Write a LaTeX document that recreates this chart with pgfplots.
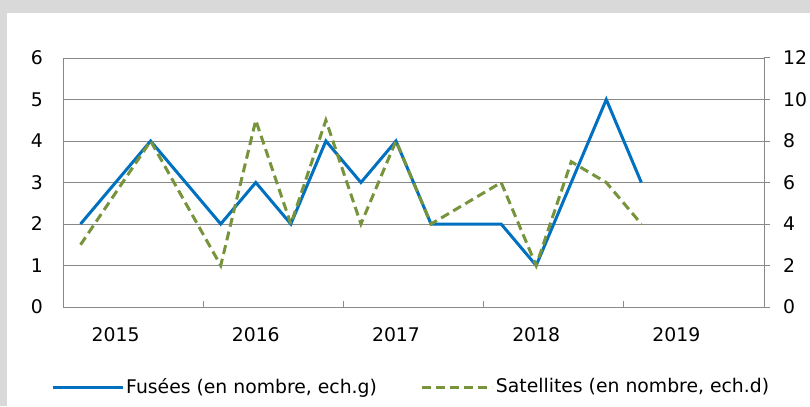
\documentclass[border=0pt]{standalone}
\usepackage{fontspec}
\setmainfont{DejaVu Sans}
\usepackage{pgfplots}
\pgfplotsset{compat=1.18}
\definecolor{bgray}{HTML}{D9D9D9}
\definecolor{gridgray}{HTML}{898989}
\definecolor{fblue}{HTML}{0070C0}
\definecolor{sgreen}{HTML}{77933C}
\begin{document}
\fontsize{18.8bp}{22bp}\selectfont
\begin{tikzpicture}[x=1bp,y=1bp]
\path[use as bounding box] (0,0) rectangle (810,406);
\fill[bgray] (0,0) rectangle (810,406);
\fill[white] (7,0) rectangle (810,393);
\begin{axis}[
  at={(63bp,99bp)}, anchor=south west,
  scale only axis, width=701bp, height=249bp,
  xmin=-0.5, xmax=19.5, ymin=0, ymax=6,
  axis x line*=bottom, axis y line*=left,
  axis line style={gridgray, line width=1bp, -},
  /pgf/number format/assume math mode=true,
  ytick={0,1,...,6},
  ymajorgrids, grid style={gridgray, line width=1bp},
  ytick style={draw=none},
  yticklabel style={inner sep=0pt, anchor=east, xshift=-20bp},
  xtick={3.5,7.5,11.5,15.5}, xticklabels={},
  tick align=inside, major tick length=6bp,
  xtick style={gridgray, line width=1bp},
  extra x ticks={1,5,9,13,17},
  extra x tick labels={2015,2016,2017,2018,2019},
  extra x tick style={grid=none, tick style={draw=none},
     xticklabel style={inner sep=0pt, anchor=center, yshift=-28bp}},
  clip=false,
]
\addplot[fblue, line width=3bp] coordinates {
(0,2) (1,3) (2,4) (3,3) (4,2) (5,3) (6,2) (7,4) (8,3) (9,4) (10,2) (11,2) (12,2) (13,1) (14,3) (15,5) (16,3)};
\end{axis}
\begin{axis}[
  at={(63bp,99bp)}, anchor=south west,
  scale only axis, width=701bp, height=249bp,
  xmin=-0.5, xmax=19.5, ymin=0, ymax=12,
  axis x line=none, axis y line*=right,
  axis line style={gridgray, line width=1bp, -},
  /pgf/number format/assume math mode=true,
  ytick={0,2,...,12},
  tick align=outside, major tick length=6bp,
  ytick style={gridgray, line width=1bp},
  yticklabel style={inner sep=0pt, anchor=west, xshift=13bp},
  legend columns=2,
  legend style={draw=none, fill=none, inner sep=0pt, at={(-0.0171,-0.3213)}, anchor=west,
     /tikz/every even column/.append style={column sep=42bp},
     nodes={inner sep=2bp}},
  legend cell align=left,
  legend image code/.code={\draw[#1] (0bp,0bp) -- (70bp,0bp);},
  clip=false,
]
\addlegendimage{fblue, line width=3bp}
\addlegendentry{Fusées (en nombre, ech.g)}
\addplot[sgreen, line width=3bp, dash pattern=on 9bp off 5bp] coordinates {
(0,3) (1,5.5) (2,8) (3,5) (4,2) (5,9) (6,4) (7,9) (8,4) (9,8) (10,4) (11,5) (12,6) (13,2) (14,7) (15,6) (16,4)};
\addlegendentry{Satellites (en nombre, ech.d)}
\end{axis}
\end{tikzpicture}
\end{document}
